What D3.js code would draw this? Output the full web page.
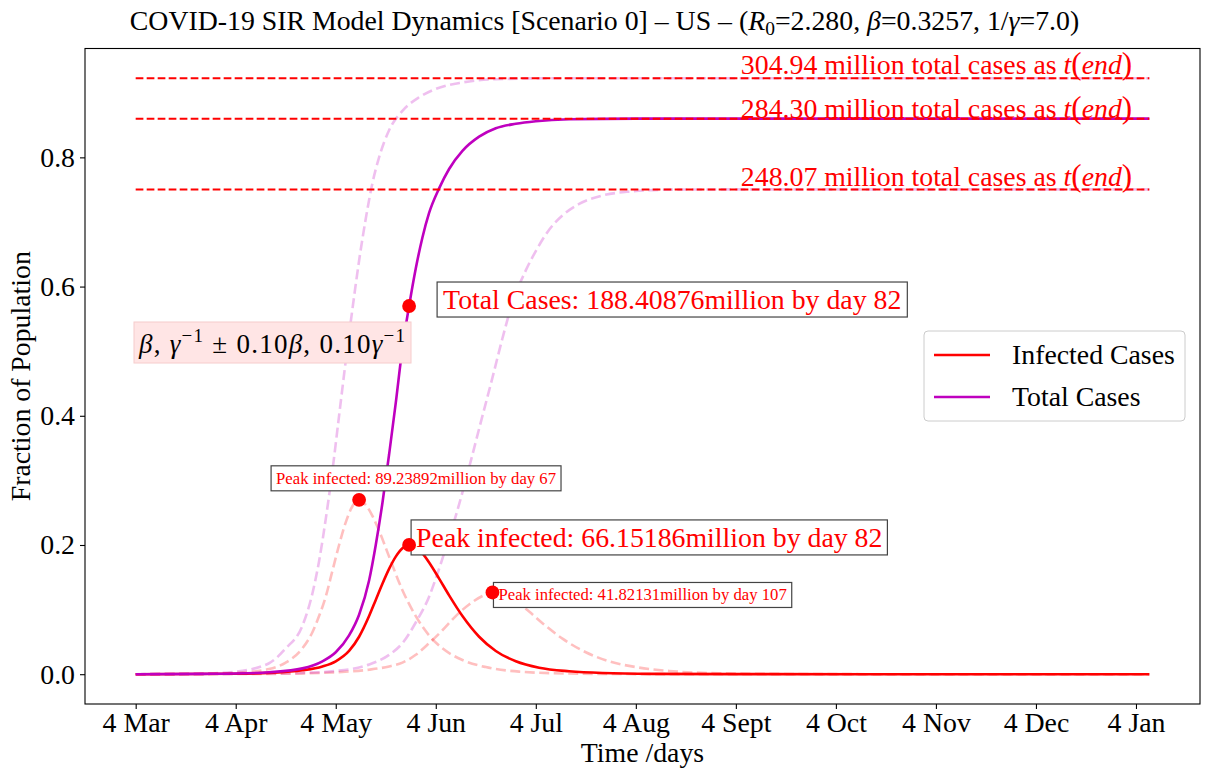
<!DOCTYPE html>
<html><head><meta charset="utf-8">
<script src="https://cdn.jsdelivr.net/npm/d3@7/dist/d3.min.js"></script>
<style>
body{margin:0;background:#fff}
text{font-family:"Liberation Serif","Times New Roman",serif}
</style>
</head><body>
<svg id="c" width="1209" height="777"></svg>
<script>
// ---------- data ----------
const lastDay = 304;
const tickDays = [0,30,60,90,120,150,180,210,240,270,300];
const tickLabels = ["4 Mar","4 Apr","4 May","4 Jun","4 Jul","4 Aug","4 Sept","4 Oct","4 Nov","4 Dec","4 Jan"];
const yTickValues = [0,0.2,0.4,0.6,0.8];
const populationMillions = 330.6;
const endTotalsMillions = [304.94, 284.30, 248.07];

// main scenario (solid)
const infectedMain = [[0,0],[30,0.0007],[40,0.002],[50,0.006],[56,0.012],[60,0.02],[64,0.036],[67,0.058],[70,0.09],[72,0.115],[74,0.14],[76,0.163],[78,0.182],[80,0.195],[82,0.2],[84,0.197],[86,0.187],[88,0.173],[91,0.148],[94,0.122],[98,0.09],[103,0.058],[108,0.036],[114,0.02],[121,0.01],[130,0.0045],[140,0.0018],[155,0.0005],[180,0.0001],[220,0],[304,0]];
const totalMain = [[0,0],[20,0.0005],[30,0.001],[40,0.003],[50,0.009],[56,0.02],[60,0.034],[64,0.06],[67,0.092],[70,0.145],[72,0.2],[74,0.265],[76,0.34],[78,0.42],[80,0.505],[82,0.57],[84,0.628],[86,0.676],[88,0.714],[91,0.752],[94,0.782],[98,0.81],[103,0.832],[108,0.845],[114,0.852],[120,0.856],[130,0.859],[150,0.86],[304,0.86]];

// upper scenario (+10% beta, +10% 1/gamma), dashed
const infectedUpper = [[0,0],[20,0.0005],[30,0.002],[40,0.008],[45,0.018],[50,0.04],[53,0.065],[55,0.09],[57,0.12],[59,0.16],[61,0.2],[63,0.235],[65,0.26],[67,0.27],[69,0.262],[71,0.245],[73,0.222],[76,0.182],[80,0.13],[84,0.09],[88,0.06],[92,0.04],[98,0.022],[105,0.011],[115,0.004],[130,0.001],[150,0.0002],[180,0],[304,0]];
const totalUpper = [[0,0],[20,0.001],[30,0.004],[40,0.017],[45,0.04],[50,0.075],[53,0.125],[55,0.175],[57,0.24],[59,0.315],[61,0.4],[63,0.485],[65,0.565],[67,0.64],[69,0.705],[71,0.76],[73,0.8],[76,0.842],[80,0.872],[85,0.893],[90,0.906],[98,0.916],[108,0.921],[125,0.9224],[304,0.9224]];

// lower scenario (-10% beta, -10% 1/gamma), dashed
const infectedLower = [[0,0],[40,0.0005],[60,0.003],[70,0.007],[76,0.012],[80,0.018],[84,0.03],[88,0.048],[92,0.068],[96,0.09],[100,0.108],[104,0.121],[107,0.1265],[110,0.124],[114,0.113],[118,0.097],[122,0.079],[128,0.055],[135,0.034],[142,0.02],[150,0.011],[160,0.005],[175,0.0015],[200,0.0003],[230,0],[304,0]];
const totalLower = [[0,0],[40,0.001],[50,0.002],[60,0.005],[70,0.015],[76,0.03],[80,0.048],[84,0.08],[88,0.12],[90,0.148],[93,0.195],[96,0.245],[100,0.32],[103,0.38],[107,0.459],[110,0.52],[113,0.575],[117,0.625],[120,0.655],[124,0.688],[128,0.71],[133,0.728],[140,0.741],[148,0.747],[160,0.75],[180,0.7504],[304,0.7504]];

const peakDays = [82, 67, 107];
const peakMillions = [66.15186, 89.23892, 41.82131];
const totalDay = 82;
const totalMillions = 188.40876;

// ---------- chart ----------
const SERIF = "Liberation Serif";
const svg = d3.select("#c");
const M = {left:85, right:1200, top:48.5, bottom:704};
const x = d3.scaleLinear().domain([-0.05*lastDay, lastDay*1.05]).range([M.left, M.right]);
const yMax = endTotalsMillions[0]/populationMillions;
const y = d3.scaleLinear().domain([-0.05*yMax, yMax*1.05]).range([M.bottom, M.top]);

const RED = "#ff0000", MAG = "#bf00bf";
const line = d3.line().x(d=>x(d[0])).y(d=>y(d[1])).curve(d3.curveMonotoneX);

const plot = svg.append("g");
[[infectedUpper,RED],[infectedLower,RED],[totalUpper,MAG],[totalLower,MAG]].forEach(([d,c])=>{
  plot.append("path").attr("d",line(d)).attr("fill","none").attr("stroke",c)
    .attr("stroke-opacity",0.25).attr("stroke-width",2.6).attr("stroke-dasharray","10,4.5");
});
plot.append("path").attr("d",line(infectedMain)).attr("fill","none").attr("stroke",RED).attr("stroke-width",2.6);
plot.append("path").attr("d",line(totalMain)).attr("fill","none").attr("stroke",MAG).attr("stroke-width",2.6);

// horizontal end-total lines
const labelOffsets = [4,1,3];
endTotalsMillions.forEach((v,i)=>{
  const fy = y(v/populationMillions);
  plot.append("line").attr("x1",x(0)).attr("x2",x(lastDay)).attr("y1",fy).attr("y2",fy)
    .attr("stroke",RED).attr("stroke-width",2).attr("stroke-dasharray","7.7,3.3");
  const t = plot.append("text").attr("x",x(181.5)).attr("y",fy-labelOffsets[i])
    .attr("fill",RED).attr("font-size",27.8).attr("font-family",SERIF);
  t.append("tspan").text(v.toFixed(2)+" million total cases as ");
  t.append("tspan").attr("font-style","italic").text("t");
  t.append("tspan").attr("font-size",31).text("(");
  t.append("tspan").attr("font-style","italic").text("end");
  t.append("tspan").attr("font-size",31).text(")");
});

// beta/gamma box
const bg = svg.append("g");
const bt = bg.append("text").attr("x",139).attr("y",353).attr("font-size",27).attr("fill","#000")
  .attr("font-family",SERIF);
bt.append("tspan").attr("font-style","italic").text("β");
bt.append("tspan").text(", ");
bt.append("tspan").attr("font-style","italic").text("γ");
bt.append("tspan").attr("font-size",19).attr("dy",-11).text("−1");
bt.append("tspan").attr("dy",11).text(" ± 0.10");
bt.append("tspan").attr("font-style","italic").text("β");
bt.append("tspan").text(", 0.10");
bt.append("tspan").attr("font-style","italic").text("γ");
bt.append("tspan").attr("font-size",19).attr("dy",-11).text("−1");
bt.attr("textLength",266).attr("lengthAdjust","spacing");
bg.insert("rect","text").attr("x",134).attr("y",322).attr("width",277).attr("height",41)
  .attr("fill","#ffe5e5").attr("stroke","#f6cccc").attr("stroke-width",1);

// annotations
function annotate(px,py,dx,dy,str,size,padX,padY){
  const g = svg.append("g");
  const t = g.append("text").attr("x",px+dx).attr("y",py+dy).attr("font-size",size)
    .attr("font-family",SERIF).attr("fill",RED).text(str);
  const b = t.node().getBBox();
  g.insert("rect","text").attr("x",b.x-padX).attr("y",b.y-padY).attr("width",b.width+2*padX).attr("height",b.height+2*padY)
    .attr("fill","#fff").attr("stroke","#444").attr("stroke-width",1.2);
}
const dot = (d,v)=>svg.append("circle").attr("cx",x(d)).attr("cy",y(v)).attr("r",6.9).attr("fill",RED);

const peakFracs = peakMillions.map(m=>m/populationMillions);
annotate(x(totalDay),y(totalMillions/populationMillions),34,3,
  "Total Cases: "+totalMillions.toFixed(5)+"million by day "+totalDay,27.8,6,2);
annotate(x(peakDays[0]),y(peakFracs[0]),7,2,
  "Peak infected: "+peakMillions[0].toFixed(5)+"million by day "+peakDays[0],27.8,5,2);
annotate(x(peakDays[1]),y(peakFracs[1]),-83,-16,
  "Peak infected: "+peakMillions[1].toFixed(5)+"million by day "+peakDays[1],16.7,5,3);
annotate(x(peakDays[2]),y(peakFracs[2]),6,8,
  "Peak infected: "+peakMillions[2].toFixed(5)+"million by day "+peakDays[2],16.7,5,3);
dot(totalDay,totalMillions/populationMillions);
peakDays.forEach((d,i)=>dot(d,peakFracs[i]));

// frame
svg.append("rect").attr("x",M.left).attr("y",M.top).attr("width",M.right-M.left).attr("height",M.bottom-M.top)
  .attr("fill","none").attr("stroke","#000").attr("stroke-width",1.1);

// axes
const xa = svg.append("g").attr("transform",`translate(0,${M.bottom})`)
  .call(d3.axisBottom(x).tickValues(tickDays).tickFormat((d,i)=>tickLabels[i]).tickSize(5).tickPadding(3));
const ya = svg.append("g").attr("transform",`translate(${M.left},0)`)
  .call(d3.axisLeft(y).tickValues(yTickValues).tickFormat(d3.format(".1f")).tickSize(5).tickPadding(5));
[xa,ya].forEach(a=>{
  a.select(".domain").remove();
  a.selectAll("text").attr("font-size",27.8).attr("font-family",SERIF).attr("fill","#000");
  a.selectAll("line").attr("stroke","#000").attr("stroke-width",1.1);
});

// axis labels
svg.append("text").attr("x",(M.left+M.right)/2).attr("y",762).attr("text-anchor","middle")
  .attr("font-size",27.8).attr("font-family",SERIF).text("Time /days");
svg.append("text").attr("transform",`translate(30,${(M.top+M.bottom)/2}) rotate(-90)`).attr("text-anchor","middle")
  .attr("font-size",27.8).attr("font-family",SERIF).text("Fraction of Population");

// title
const tt = svg.append("text").attr("x",604.5).attr("y",30).attr("text-anchor","middle")
  .attr("font-size",27.8).attr("font-family",SERIF);
tt.append("tspan").text("COVID-19 SIR Model Dynamics [Scenario 0] – US – (");
tt.append("tspan").attr("font-style","italic").text("R");
tt.append("tspan").attr("font-size",19.5).attr("dy",5).text("0");
tt.append("tspan").attr("dy",-5).text("=2.280, ");
tt.append("tspan").attr("font-style","italic").text("β");
tt.append("tspan").text("=0.3257, 1/");
tt.append("tspan").attr("font-style","italic").text("γ");
tt.append("tspan").text("=7.0)");

// legend
const lg = svg.append("g");
lg.append("rect").attr("x",924).attr("y",331).attr("width",261).attr("height",90).attr("rx",4)
  .attr("fill","#fff").attr("fill-opacity",0.8).attr("stroke","#ccc").attr("stroke-width",1);
[["Infected Cases",RED,355],["Total Cases",MAG,397]].forEach(([s,c,ly])=>{
  lg.append("line").attr("x1",934).attr("x2",990).attr("y1",ly).attr("y2",ly).attr("stroke",c).attr("stroke-width",2.6);
  lg.append("text").attr("x",1012).attr("y",ly+9).attr("font-size",27.8).attr("font-family",SERIF).text(s);
});
</script>
</body></html>
